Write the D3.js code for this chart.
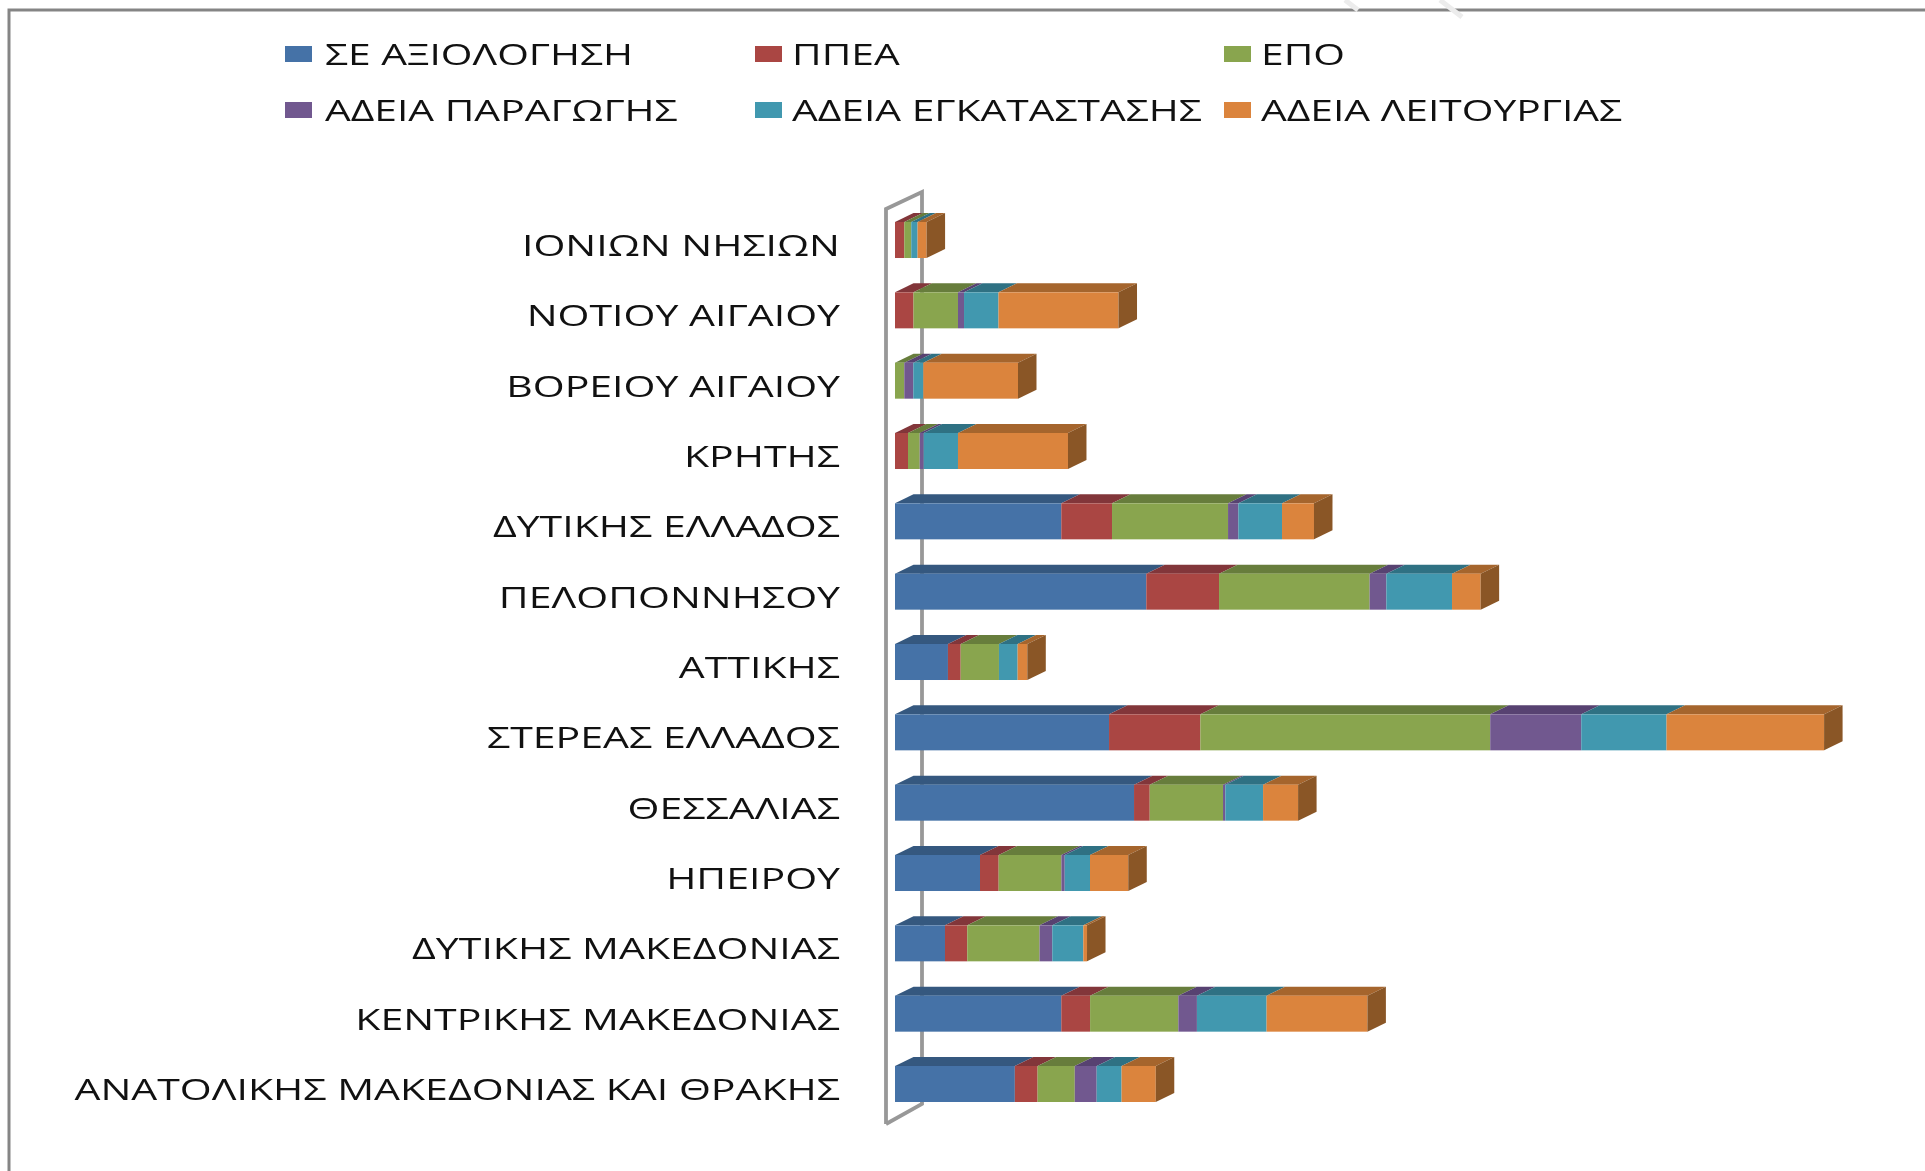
<!DOCTYPE html>
<html><head><meta charset="utf-8">
<script src="https://cdn.jsdelivr.net/npm/d3@7/dist/d3.min.js"></script>
<style>html,body{margin:0;padding:0;background:#fff;overflow:hidden}svg{display:block;filter:blur(0.7px)}text{font-family:"Open Sans",sans-serif;fill:#111}</style>
</head><body><script>
const categories=["ΙΟΝΙΩΝ ΝΗΣΙΩΝ","ΝΟΤΙΟΥ ΑΙΓΑΙΟΥ","ΒΟΡΕΙΟΥ ΑΙΓΑΙΟΥ","ΚΡΗΤΗΣ","ΔΥΤΙΚΗΣ ΕΛΛΑΔΟΣ","ΠΕΛΟΠΟΝΝΗΣΟΥ","ΑΤΤΙΚΗΣ","ΣΤΕΡΕΑΣ ΕΛΛΑΔΟΣ","ΘΕΣΣΑΛΙΑΣ","ΗΠΕΙΡΟΥ","ΔΥΤΙΚΗΣ ΜΑΚΕΔΟΝΙΑΣ","ΚΕΝΤΡΙΚΗΣ ΜΑΚΕΔΟΝΙΑΣ","ΑΝΑΤΟΛΙΚΗΣ ΜΑΚΕΔΟΝΙΑΣ ΚΑΙ ΘΡΑΚΗΣ"];
const seriesNames=["ΣΕ ΑΞΙΟΛΟΓΗΣΗ","ΠΠΕΑ","ΕΠΟ","ΑΔΕΙΑ ΠΑΡΑΓΩΓΗΣ","ΑΔΕΙΑ ΕΓΚΑΤΑΣΤΑΣΗΣ","ΑΔΕΙΑ ΛΕΙΤΟΥΡΓΙΑΣ"];
const seAxiologisi=[0,0,0,0,17.9,27.05,5.7,23.04,25.73,9.15,5.38,17.9,12.9];
const ppea=[1.0,1.99,0,1.4,5.46,7.83,1.37,9.83,1.69,2.01,2.4,3.1,2.45];
const epo=[0.75,4.79,1.0,1.26,12.49,16.21,4.12,31.2,7.89,6.75,7.78,9.5,4.0];
const adeiaParagogis=[0,0.65,0.97,0.43,1.11,1.8,0,9.8,0.25,0.36,1.37,2.0,2.36];
const adeiaEgkatastasis=[0.68,3.71,1.08,3.69,4.7,7.07,2.01,9.18,4.06,2.72,3.34,7.5,2.68];
const adeiaLeitourgias=[0.97,12.92,10.19,11.84,3.44,3.08,1.04,16.96,3.77,4.12,0.4,10.85,3.68];
const seriesValues=[seAxiologisi,ppea,epo,adeiaParagogis,adeiaEgkatastasis,adeiaLeitourgias];
const front=["#4572a7","#aa4643","#89a54e","#71588f","#4198af","#db843d"];
const top_=["#35587f","#82363a","#677d3c","#574271","#2f7183","#a5652d"];
const sideOrange="#8a5626";

const W=1925,H=1171,dx=18.5,dy=9;
const svg=d3.select("body").append("svg").attr("width",W).attr("height",H);
const x=d3.scaleLinear().domain([0,100]).range([895,1824]);
const y=d3.scaleBand().domain(categories).range([222,1102]).paddingInner(0.488);

// outer frame
svg.append("path").attr("d",`M9,${H}V10H${W}`).attr("fill","none").attr("stroke","#858585").attr("stroke-width",3);
// watermark fragments
svg.append("path").attr("d","M1345,0L1358,10M1440,0L1462,17").attr("stroke","#ececec").attr("stroke-width",5).attr("fill","none");

// axis wall
const wx0=886,wx1=922,wTop0=209,wTop1=192,wBot0=1124,wBot1=1104;
svg.append("path").attr("d",`M${wx0},${wBot0}V${wTop0}L${wx1},${wTop1}V${wBot1}L${wx0},${wBot0}`)
  .attr("fill","none").attr("stroke","#989898").attr("stroke-width",3.8).attr("stroke-linejoin","miter");

// stacked bars
const rows=categories.map((c,i)=>{const o={cat:c};seriesNames.forEach((s,j)=>o[s]=seriesValues[j][i]);return o;});
const stacked=d3.stack().keys(seriesNames)(rows);
const bh=y.bandwidth();
stacked.forEach((layer,j)=>{
  const g=svg.append("g");
  layer.forEach(d=>{
    if(d[1]-d[0]<=0)return;
    const a=x(d[0]),b=x(d[1]),t=y(d.data.cat);
    g.append("path").attr("d",`M${a},${t}L${a+dx},${t-dy}H${b+dx}L${b},${t}Z`).attr("fill",top_[j]);
    g.append("rect").attr("x",a).attr("y",t).attr("width",b-a).attr("height",bh).attr("fill",front[j]);
  });
});
// right-hand side faces
svg.append("g").selectAll("path").data(rows).join("path")
  .attr("d",d=>{const e=x(d3.sum(seriesNames,s=>d[s])),t=y(d.cat);return `M${e},${t}L${e+dx},${t-dy}V${t+bh-dy}L${e},${t+bh}Z`;})
  .attr("fill",sideOrange);

// category labels
const sx=1.415;
svg.append("g").selectAll("text").data(categories).join("text")
  .attr("text-anchor","end").attr("font-size",29)
  .attr("transform",d=>`translate(840,${y(d)+bh/2+16}) scale(${sx},1)`)
  .text(d=>d);

// legend
const legendX=[285,755,1224],legendTextX=[325,792,1261],legendY=[54,110];
seriesNames.forEach((s,i)=>{
  const col=i%3,cy=legendY[Math.floor(i/3)];
  svg.append("rect").attr("x",legendX[col]).attr("y",cy-8).attr("width",27).attr("height",16).attr("fill",front[i]);
  svg.append("text").attr("font-size",29).attr("transform",`translate(${legendTextX[col]},${cy+11}) scale(1.405,1)`).text(s);
});
</script></body></html>
